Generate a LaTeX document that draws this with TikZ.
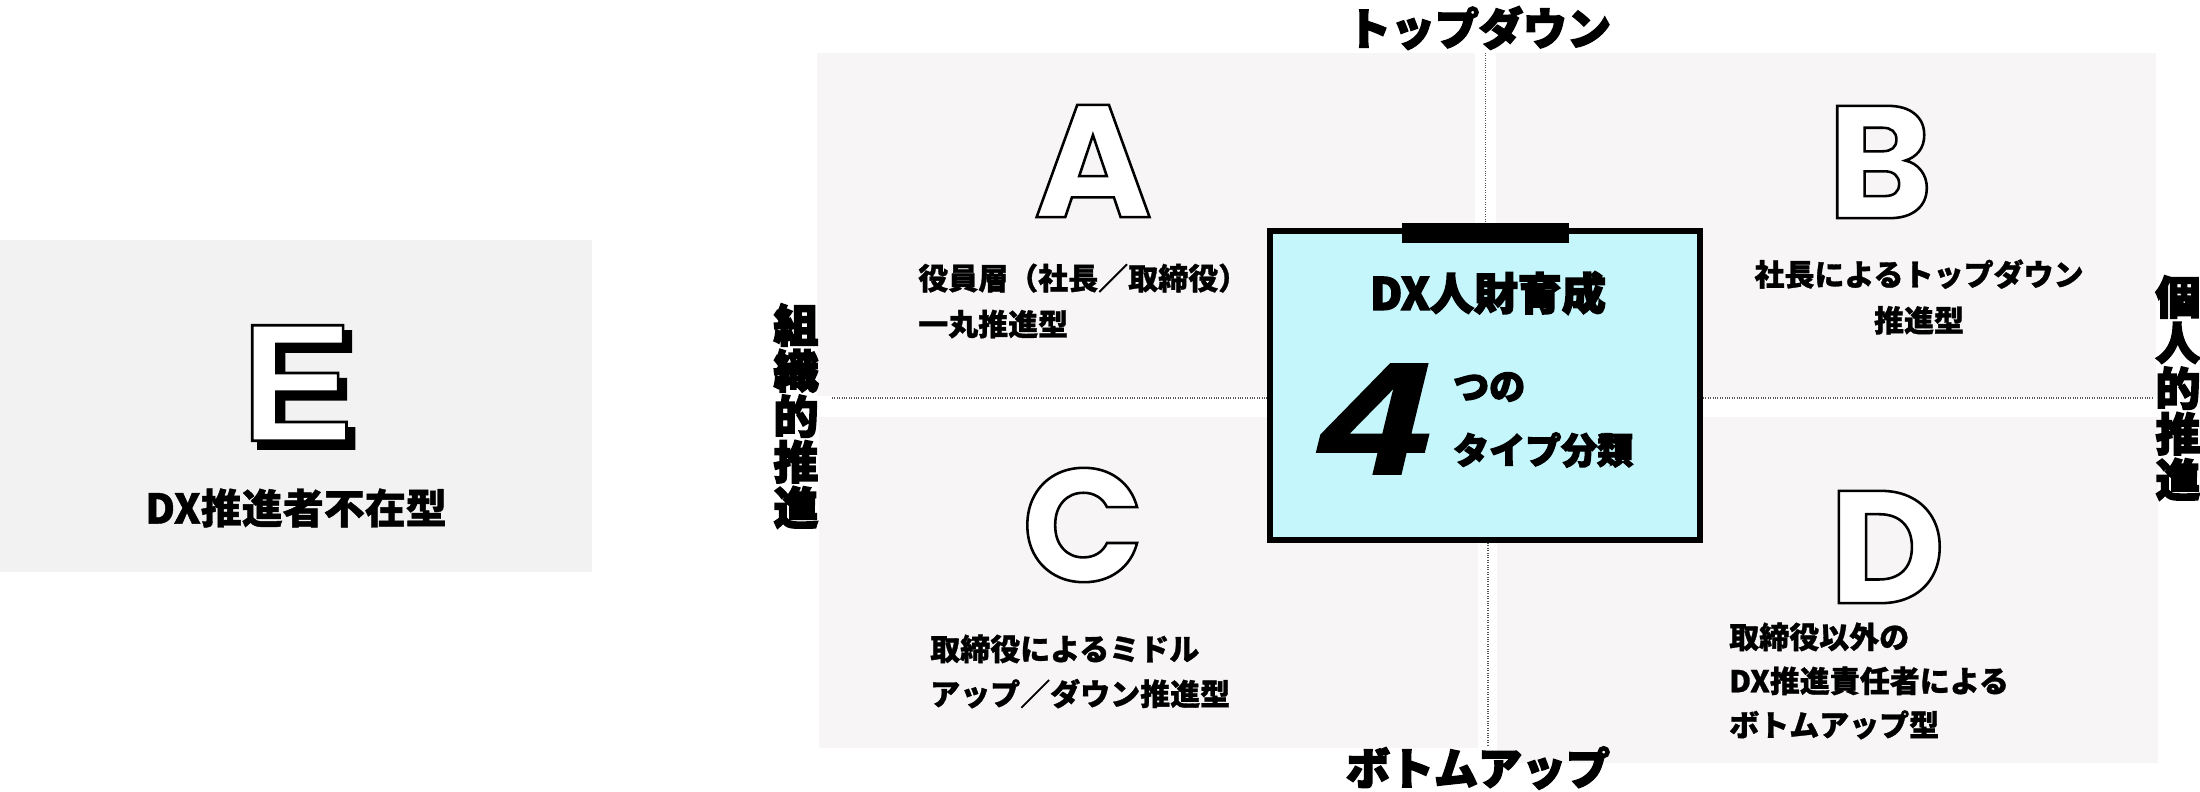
\documentclass[tikz,border=0pt]{standalone}
\usepackage{fontspec}
\newfontfamily\jp{Noto Sans CJK JP}[BoldFeatures={FakeBold=1}]
\newfontfamily\jph{Noto Sans CJK JP}[BoldFeatures={FakeBold=3.5}]
\newfontfamily\popline{Poppins}[BoldFeatures={FakeBold=1.6},UprightFeatures={FakeBold=1.6}]
\newfontfamily\libline{Liberation Sans}[BoldFeatures={FakeBold=1.6},UprightFeatures={FakeBold=1.6}]
\newfontfamily\libshadow{Liberation Sans}[BoldFeatures={FakeBold=2.4},UprightFeatures={FakeBold=2.4}]
\newfontfamily\libfour{Liberation Sans}[FakeStretch=1.25,BoldItalicFeatures={FakeBold=2}]
\newcommand{\outl}[1]{\special{pdf:bcolor [1 1 1] [0 0 0]}#1\special{pdf:ecolor}}
\definecolor{quad}{HTML}{F7F5F5}
\definecolor{ebox}{HTML}{F2F2F2}
\definecolor{corefill}{HTML}{C4F6FB}
\definecolor{dotc}{HTML}{555555}
\begin{document}
\begin{tikzpicture}[x=1pt,y=-1pt,
  dotline/.style={draw=dotc,line width=1.4pt,dash pattern=on 1pt off 1.4pt},
  bigletter/.style={inner sep=0pt,font=\popline\bfseries\fontsize{160}{160}\selectfont},
  desc/.style={inner sep=0pt,font=\jp\bfseries\fontsize{30}{46}\selectfont},
  axislabel/.style={inner sep=0pt,font=\jph\bfseries\fontsize{44}{44}\selectfont},
  vaxis/.style={inner sep=0pt,align=center,font=\jph\bfseries\fontsize{45}{45.6}\selectfont},
]
\useasboundingbox (0,0) rectangle (2200,792);
\fill[white] (0,0) rectangle (2200,792);
% E box
\fill[ebox] (0,240) rectangle (592,572);
\node[inner sep=0pt,font=\libshadow\bfseries\fontsize{168}{168}\selectfont] (Eshadow) at (304,390) {E};
\node[inner sep=0pt,font=\libline\bfseries\fontsize{168}{168}\selectfont] (E) at (297,383) {\outl{E}};
\node[inner sep=0pt,font=\jp\bfseries\fontsize{41}{41}\selectfont] (Etext) at (296,508) {DX推進者不在型};
% quadrants
\fill[quad] (817,53) rectangle (1475,396);
\fill[quad] (1496,53) rectangle (2156,397);
\fill[quad] (819,417) rectangle (1478,748);
\fill[quad] (1497,417) rectangle (2158,763);
% core box
\node[draw=black,line width=6pt,fill=corefill,minimum width=430pt,minimum height=309pt,inner sep=0pt] (core) at (1485,385.5) {};
\node[fill=black,minimum width=167pt,minimum height=20pt,inner sep=0pt] (tab) at (1485.5,233) {};
% axis lines
\coordinate (topend) at (1485.5,53);
\coordinate (botend) at (1488,745);
\coordinate (leftend) at (832,398);
\coordinate (rightend) at (2154,398);
\draw[dotline] (topend) -- (tab.north);
\draw[dotline] (core.south -| botend) -- (botend);
\draw[dotline] (leftend) -- (leftend -| core.west);
\draw[dotline] (rightend -| core.east) -- (rightend);
% core texts
\node[inner sep=0pt,font=\jph\bfseries\fontsize{44}{44}\selectfont] (title) at (1488,293) {DX人財育成};
\node[inner sep=0pt,font=\libfour\bfseries\itshape\fontsize{158}{158}\selectfont] (four) at (1376,419) {4};
\node[inner sep=0pt,anchor=west,font=\jph\bfseries\fontsize{36}{36}\selectfont] (tsuno) at (1453,387) {つの};
\node[inner sep=0pt,anchor=west,font=\jph\bfseries\fontsize{36}{36}\selectfont] (typebun) at (1453,450) {タイプ分類};
% letters (white fill, black stroke)
\node[bigletter] (A) at (1093,161) {\outl{A}};
\node[bigletter] (B) at (1880,162) {\outl{B}};
\node[bigletter] (C) at (1083,525) {\outl{C}};
\node[bigletter] (D) at (1887,547) {\outl{D}};
% descriptions
\node[desc,align=left,anchor=west] (Atext) at (918,301) {役員層（社長／取締役）\\一丸推進型};
\node[desc,align=center] (Btext) at (1919,297) {社長によるトップダウン\\推進型};
\node[desc,align=left,anchor=west,font=\jp\bfseries\fontsize{30}{45}\selectfont] (Ctext) at (930,671.5) {取締役によるミドル\\アップ／ダウン推進型};
\node[desc,align=left,anchor=west,font=\jp\bfseries\fontsize{30}{44}\selectfont] (Dtext) at (1729,681) {取締役以外の\\DX推進責任者による\\ボトムアップ型};
% axis labels
\node[axislabel] (toplabel) at (1479,28) {トップダウン};
\node[axislabel] (bottomlabel) at (1478,768) {ボトムアップ};
\node[vaxis] (leftlabel) at (796,416) {組\\織\\的\\推\\進};
\node[vaxis] (rightlabel) at (2178,388) {個\\人\\的\\推\\進};
\end{tikzpicture}
\end{document}
